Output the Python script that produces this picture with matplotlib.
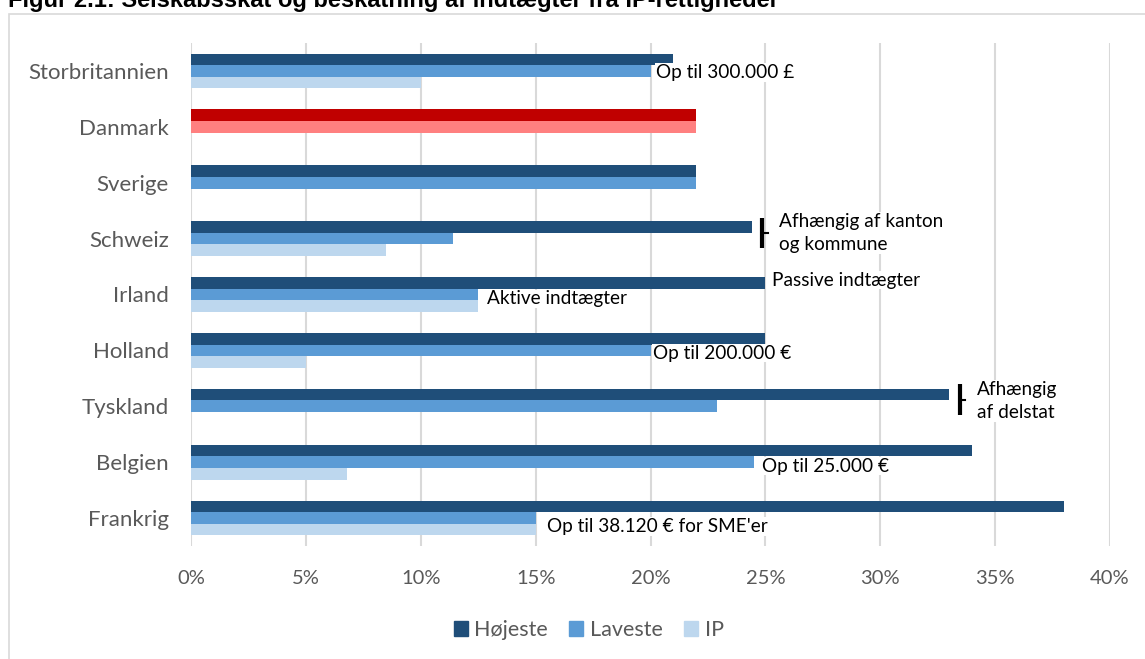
import numpy as np
import matplotlib.pyplot as plt
from matplotlib.patches import Rectangle

plt.rcParams['font.family'] = ['Lato', 'DejaVu Sans']

lande = ["Storbritannien", "Danmark", "Sverige", "Schweiz", "Irland",
         "Holland", "Tyskland", "Belgien", "Frankrig"]
hoejeste = [21, 22, 22, 24.4, 25, 25, 33, 34, 38]
laveste = [20, 22, 22, 11.4, 12.5, 20, 22.9, 24.5, 15]
ip = [10, np.nan, np.nan, 8.5, 12.5, 5, np.nan, 6.8, 15]
xticks = [0, 5, 10, 15, 20, 25, 30, 35, 40]

BLAA_MORK = "#1F4E79"
BLAA = "#5B9BD5"
BLAA_LYS = "#BDD7EE"
ROED_MORK = "#C00000"
ROED_LYS = "#FF8080"
GRAA = "#595959"

fig = plt.figure(figsize=(11.45, 6.59), dpi=100)
ax = fig.add_axes([191 / 1145, 1 - 546 / 659, (1110 - 191) / 1145, (546 - 43) / 659])

# ramme om diagramomraadet
fig.patches.append(Rectangle((9 / 1145, -0.01), 1.0, 1 - 14 / 659 + 0.01,
                             transform=fig.transFigure, fill=False,
                             edgecolor="#D9D9D9", lw=1.2))
fig.text(8 / 1145, 1 - 7.5 / 659,
         "Figur 2.1: Selskabsskat og beskatning af indtægter fra IP-rettigheder",
         family="Liberation Sans", weight="bold", fontsize=17, va="baseline")

y = np.arange(len(lande))
h = 0.207
farve_h = [ROED_MORK if l == "Danmark" else BLAA_MORK for l in lande]
farve_l = [ROED_LYS if l == "Danmark" else BLAA for l in lande]
ax.barh(y - h, hoejeste, height=h, color=farve_h, zorder=2)
ax.barh(y, laveste, height=h, color=farve_l, zorder=2)
ax.barh(y + h, ip, height=h, color=BLAA_LYS, zorder=2)

ax.set_xlim(0, 40)
ax.set_ylim(len(lande) - 0.5, -0.5)
ax.set_xticks(xticks)
ax.set_xticklabels([f"{t}%" for t in xticks])
ax.set_yticks(y)
ax.set_yticklabels(lande)
ax.tick_params(length=0, labelcolor=GRAA)
ax.tick_params(axis="x", pad=17, labelsize=14.5)
ax.tick_params(axis="y", pad=16, labelsize=16)
ax.grid(axis="x", color="#D9D9D9", lw=1.5, zorder=1)
for s in ax.spines.values():
    s.set_visible(False)

# forklarende tekster
boks = dict(facecolor="white", edgecolor="none", pad=0.5)
def note(x, yy, txt, dx=0.2, dy=0.0):
    ax.text(x + dx, yy + dy, txt, fontsize=13.7, va="center", ha="left",
            bbox=boks, zorder=3, linespacing=1.45)

note(laveste[0], 0.03, "Op til 300.000 £", dx=0.25)
note(hoejeste[4], 4 - h - 0.05, "Passive indtægter", dx=0.3)
note(laveste[4], 4 + 0.08, "Aktive indtægter", dx=0.4)
note(laveste[5], 5 + 0.05, "Op til 200.000 €", dx=0.1)
note(laveste[7], 7 + 0.07, "Op til 25.000 €", dx=0.35)
note(laveste[8], 8 + 0.15, "Op til 38.120 € for SME'er", dx=0.5)
note(hoejeste[3], 3 - 0.1, "Afhængig af kanton\nog kommune", dx=1.2)
note(hoejeste[6], 6 - 0.1, "Afhængig\naf delstat", dx=1.2)

# klammer ved tekster med to linjer
for x0, yy in [(hoejeste[3] + 0.45, 3 - 0.1), (hoejeste[6] + 0.45, 6 - 0.12)]:
    ax.plot([x0, x0], [yy - 0.27, yy + 0.27], color="black", lw=3, zorder=4,
            solid_capstyle="butt")
    ax.plot([x0, x0 + 0.25], [yy, yy], color="black", lw=1.5, zorder=4)

handles = [Rectangle((0, 0), 1, 1, color=c) for c in (BLAA_MORK, BLAA, BLAA_LYS)]
fig.legend(handles, ["Højeste", "Laveste", "IP"], loc="center",
           bbox_to_anchor=(0.514, 1 - 630 / 659), ncol=3, frameon=False,
           fontsize=15.5, labelcolor=GRAA, handlelength=0.65, handleheight=0.65,
           handletextpad=0.3, columnspacing=1.0)

fig.savefig("out.png", dpi=100)
